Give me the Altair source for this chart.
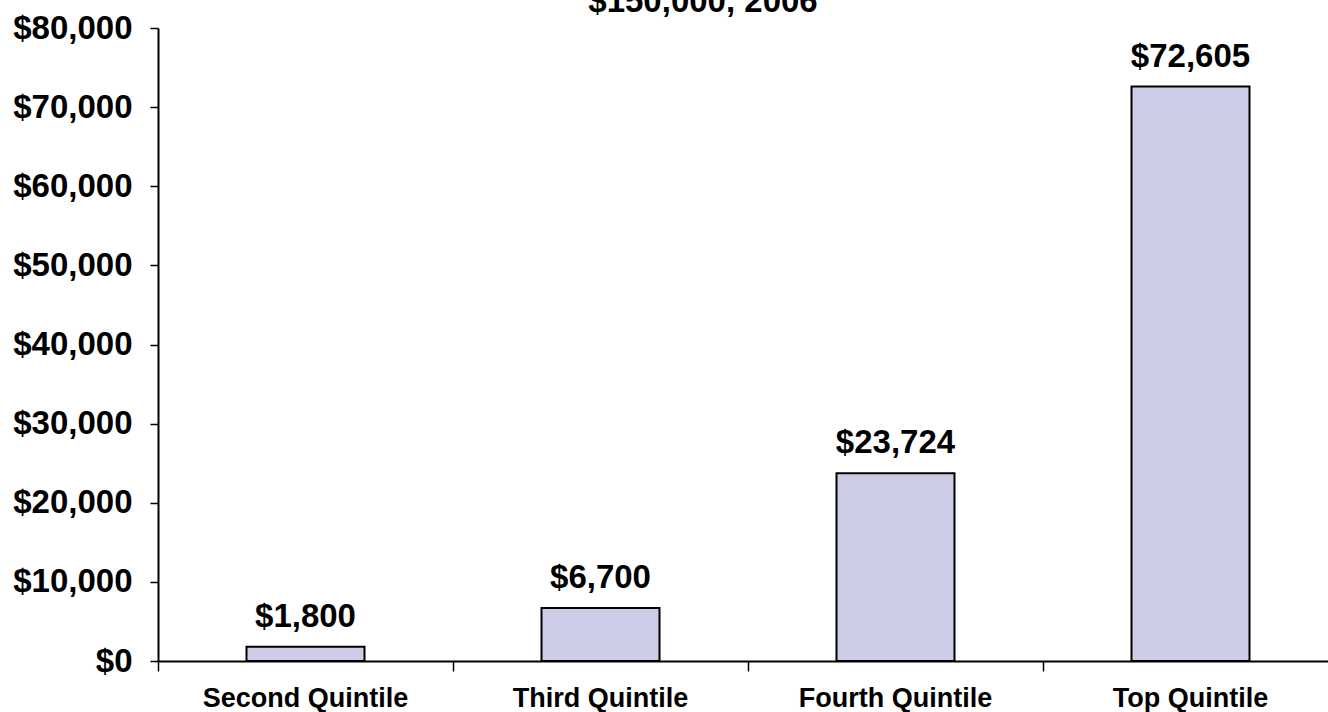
import altair as alt
import pandas as pd

categories = ["Second Quintile", "Third Quintile", "Fourth Quintile", "Top Quintile"]
values = [1800, 6700, 23724, 72605]
labels = ["$1,800", "$6,700", "$23,724", "$72,605"]
title_line = "$150,000, 2006"

df = pd.DataFrame({"cat": categories, "val": values, "lab": labels})

FONT = "Liberation Sans"

x_enc = alt.X("cat:N", sort=categories, title=None,
              scale=alt.Scale(paddingInner=0, paddingOuter=0, range=[0, 1180]),
              axis=alt.Axis(labelAngle=0, labelFont=FONT, labelFontSize=27, labelFontWeight="bold",
                            labelColor="black", domainColor="black", domainWidth=2,
                            tickColor="black", tickWidth=1.5, tickSize=10, bandPosition=0,
                            labelPadding=14, labelLimit=0, grid=False))
y_enc = alt.Y("val:Q", title=None,
              scale=alt.Scale(domain=[0, 80000], nice=False),
              axis=alt.Axis(values=list(range(0, 80001, 10000)), format="$,.0f",
                            labelFont=FONT, labelFontSize=33, labelFontWeight="bold",
                            labelColor="black", domainColor="black", domainWidth=2,
                            tickColor="black", tickWidth=1.5, tickSize=8, labelPadding=18,
                            grid=False))

bars = alt.Chart(df).mark_bar(width={"band": 0.4}, fill="#CCCCE6", stroke="black",
                              strokeWidth=2).encode(x=x_enc, y=y_enc)

text = alt.Chart(df).mark_text(font=FONT, fontSize=33, fontWeight="bold", color="black",
                               baseline="alphabetic", dy=-20).encode(
    x=alt.X("cat:N", sort=categories), y="val:Q", text="lab:N")

title = alt.Chart(pd.DataFrame({"t": [title_line]})).mark_text(
    font=FONT, fontSize=33, fontWeight="bold", color="black", baseline="alphabetic",
    align="center").encode(x=alt.value(545), y=alt.value(-16), text="t:N")

chart = alt.layer(bars, text, title).properties(
    width=1170, height=633,
    autosize=alt.AutoSizeParams(type="none"),
    padding={"left": 158, "top": 28, "right": 0, "bottom": 51},
    view=alt.ViewBackground(stroke=None, strokeWidth=0),
).configure_view(stroke=None, strokeWidth=0).configure(background="white")

chart.save("out.html", embed_options={"renderer": "svg", "actions": False})
